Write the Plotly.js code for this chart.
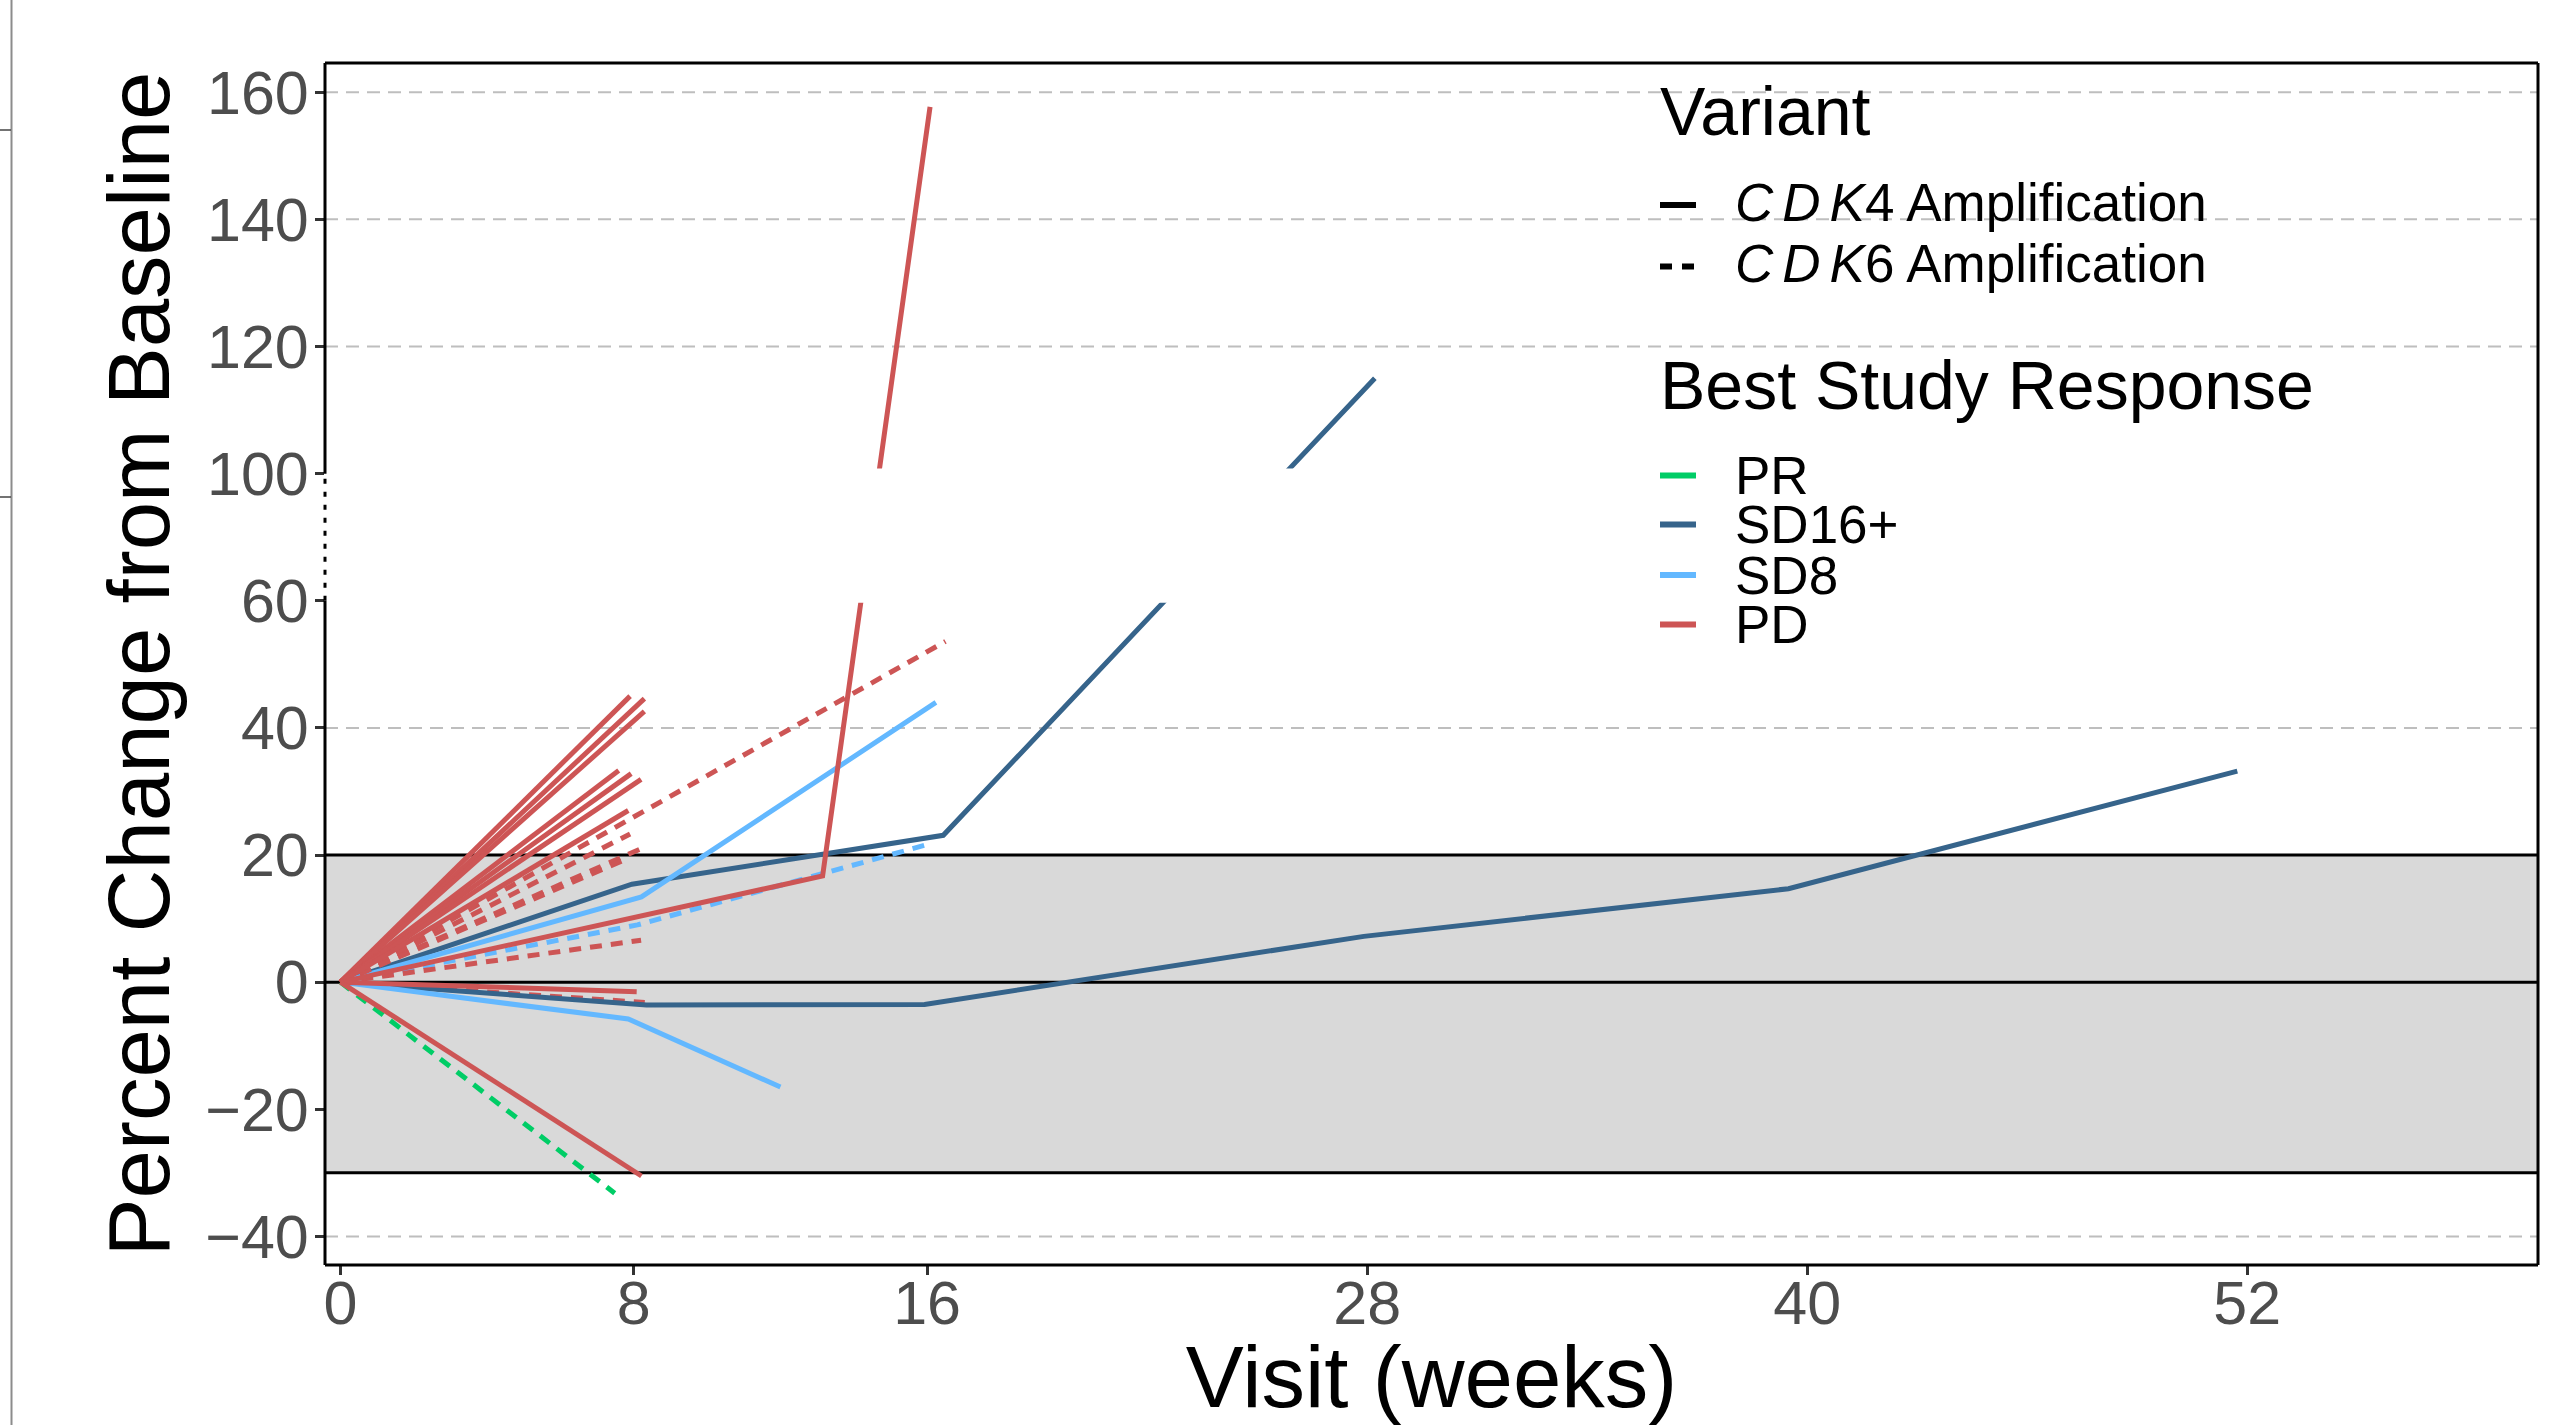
<!DOCTYPE html>
<html>
<head>
<meta charset="utf-8">
<script src="https://cdn.plot.ly/plotly-3.0.1.min.js"></script>
<style>html,body{margin:0;padding:0;background:#fff;overflow:hidden}</style>
</head>
<body>
<div id="chart" style="width:2566px;height:1425px"></div>
<script>
// ---------------- data ----------------
const responseLevels = ['PR', 'SD16+', 'SD8', 'PD'];
const responseColors = ['#00CD66', '#36648B', '#63B8FF', '#CD5555'];
const variantLevels = ['CDK4', 'CDK6'];
const variantLabels = [
  '<span style="font-style:italic;letter-spacing:9px">CD</span><i>K</i>4 Amplification',
  '<span style="font-style:italic;letter-spacing:9px">CD</span><i>K</i>6 Amplification'
];
const xTickValues = [0, 8, 16, 28, 40, 52];
const yTickValues = [-40, -20, 0, 20, 40, 60, 100, 120, 140, 160];

const patientResponse = ['PD', 'SD16+', 'SD16+', 'SD8', 'SD8', 'SD8', 'PR',
  'PD', 'PD', 'PD', 'PD', 'PD', 'PD', 'PD', 'PD', 'PD', 'PD', 'PD', 'PD', 'PD', 'PD', 'PD'];
const patientVariant = ['CDK6', 'CDK4', 'CDK4', 'CDK4', 'CDK4', 'CDK6', 'CDK6',
  'CDK6', 'CDK6', 'CDK6', 'CDK6', 'CDK6', 'CDK4', 'CDK4', 'CDK4', 'CDK4', 'CDK4', 'CDK4', 'CDK4', 'CDK4', 'CDK4', 'CDK4'];
const visitWeeks = [
  [0, 8.30],
  [0, 8.35, 15.93, 27.91, 39.49, 51.73],
  [0, 7.95, 16.44, 28.21],
  [0, 8.21, 16.24],
  [0, 7.85, 12.0],
  [0, 8.10, 15.98],
  [0, 7.48],
  [0, 16.5],
  [0, 7.90],
  [0, 8.20],
  [0, 7.85],
  [0, 8.20],
  [0, 7.90],
  [0, 8.29],
  [0, 8.29],
  [0, 7.59],
  [0, 7.93],
  [0, 8.20],
  [0, 7.85],
  [0, 13.15, 16.08],
  [0, 8.08],
  [0, 8.21]
];
const pctChange = [
  [0, -3.2],
  [0, -3.6, -3.5, 7.2, 14.7, 33.2],
  [0, 15.4, 23.1, 115],
  [0, 13.4, 44.0],
  [0, -5.8, -16.5],
  [0, 9.0, 21.6],
  [0, -33.2],
  [0, 53.6],
  [0, 23.3],
  [0, 21.0],
  [0, 19.5],
  [0, 6.6],
  [0, 45.0],
  [0, 44.6],
  [0, 42.6],
  [0, 33.3],
  [0, 32.8],
  [0, 31.9],
  [0, 27.0],
  [0, 16.7, 157.7],
  [0, -1.5],
  [0, -30.5]
];

// ---------------- broken axis transform ----------------
const BREAK_LO = 60, BREAK_HI = 100;
function brk(v) {
  if (v <= BREAK_LO) return v;
  if (v >= BREAK_HI) return v - (BREAK_HI - BREAK_LO) / 2;
  return BREAK_LO + (v - BREAK_LO) / 2;
}

const FONT = 'Liberation Sans, Arial, sans-serif';
const dashPattern = '12px,9px';

const traces = visitWeeks.map((wk, i) => ({
  type: 'scatter',
  mode: 'lines',
  x: wk,
  y: pctChange[i].map(brk),
  line: {
    color: responseColors[responseLevels.indexOf(patientResponse[i])],
    width: 5,
    dash: patientVariant[i] === 'CDK6' ? dashPattern : 'solid'
  },
  showlegend: false,
  hoverinfo: 'skip'
}));

// plot geometry (pixels)
const W = 2566, H = 1425;
const L = 325, R = 2538, T = 63, B = 1265;
const xRange = [-0.42, 59.93];
const yRange = [-44.5, 144.6];
const px2x = px => (px - L) / (R - L);
const py2y = py => (B - py) / (B - T);
const t2p = t => (t - yRange[0]) / (yRange[1] - yRange[0]);

const shapes = [];
// dashed grid lines (drawn below everything)
yTickValues.forEach(v => shapes.push({type: 'line', xref: 'paper', yref: 'y', x0: 0, x1: 1, y0: brk(v), y1: brk(v),
  line: {color: '#BEBEBE', width: 2, dash: '13px,8px'}, layer: 'below'}));
// grey response band (-30 .. 20)
shapes.push({type: 'rect', xref: 'paper', yref: 'y', x0: 0, x1: 1, y0: brk(-30), y1: brk(20),
  fillcolor: '#D9D9D9', line: {width: 0}, layer: 'below'});
[20, 0, -30].forEach(v => shapes.push({type: 'line', xref: 'paper', yref: 'y', x0: 0, x1: 1, y0: brk(v), y1: brk(v),
  line: {color: '#000000', width: 3}, layer: 'below'}));
// white break band
shapes.push({type: 'rect', xref: 'paper', yref: 'y', x0: 0, x1: 1, y0: brk(BREAK_LO) - 0.3, y1: brk(BREAK_HI) + 0.8,
  fillcolor: '#FFFFFF', line: {width: 0}, layer: 'above'});
// panel border
const bp = [t2p(brk(BREAK_LO)), t2p(brk(BREAK_HI))];
shapes.push({type: 'line', xref: 'paper', yref: 'paper', x0: 0, x1: 1, y0: 1, y1: 1, line: {color: '#000', width: 3}, layer: 'above'});
shapes.push({type: 'line', xref: 'paper', yref: 'paper', x0: 0, x1: 1, y0: 0, y1: 0, line: {color: '#000', width: 3}, layer: 'above'});
shapes.push({type: 'line', xref: 'paper', yref: 'paper', x0: 1, x1: 1, y0: 0, y1: 1, line: {color: '#000', width: 3}, layer: 'above'});
shapes.push({type: 'line', xref: 'paper', yref: 'paper', x0: 0, x1: 0, y0: 0, y1: bp[0], line: {color: '#000', width: 3}, layer: 'above'});
shapes.push({type: 'line', xref: 'paper', yref: 'paper', x0: 0, x1: 0, y0: bp[1], y1: 1, line: {color: '#000', width: 3}, layer: 'above'});
shapes.push({type: 'line', xref: 'paper', yref: 'paper', x0: 0, x1: 0, y0: bp[0], y1: bp[1], line: {color: '#000', width: 3, dash: '5px,8px'}, layer: 'above'});

// page artifacts on the left edge
shapes.push({type: 'line', xref: 'paper', yref: 'paper', x0: px2x(11.5), x1: px2x(11.5), y0: py2y(0), y1: py2y(H), line: {color: '#8C8C8C', width: 2}});
[130, 497].forEach(py => shapes.push({type: 'line', xref: 'paper', yref: 'paper', x0: px2x(0), x1: px2x(11), y0: py2y(py), y1: py2y(py), line: {color: '#444', width: 1.5}}));

// ---------------- manual legend ----------------
const annotations = [];
const keyX0 = 1660, keyX1 = 1696, labelX = 1735;
annotations.push({text: 'Variant', xref: 'paper', yref: 'paper', x: px2x(keyX0 - 2), y: py2y(111), xanchor: 'left', yanchor: 'middle',
  showarrow: false, font: {family: FONT, size: 68, color: '#000'}});
const variantRowY = [202, 263.5];
variantLevels.forEach((v, i) => {
  annotations.push({text: variantLabels[i], xref: 'paper', yref: 'paper', x: px2x(labelX - 2), y: py2y(variantRowY[i]), xanchor: 'left', yanchor: 'middle',
    showarrow: false, font: {family: FONT, size: 53, color: '#000'}});
  shapes.push({type: 'line', xref: 'paper', yref: 'paper', x0: px2x(keyX0), x1: px2x(keyX1), y0: py2y(variantRowY[i] + 3), y1: py2y(variantRowY[i] + 3),
    line: {color: '#000', width: 6, dash: i === 0 ? 'solid' : '12px,10px'}, layer: 'above'});
});
annotations.push({text: 'Best Study Response', xref: 'paper', yref: 'paper', x: px2x(keyX0 - 2), y: py2y(384.5), xanchor: 'left', yanchor: 'middle',
  showarrow: false, font: {family: FONT, size: 68, color: '#000'}});
const respRowY = [475.5, 524.5, 575, 624.5];
responseLevels.forEach((r, i) => {
  annotations.push({text: r, xref: 'paper', yref: 'paper', x: px2x(labelX - 2), y: py2y(respRowY[i]), xanchor: 'left', yanchor: 'middle',
    showarrow: false, font: {family: FONT, size: 53, color: '#000'}});
  shapes.push({type: 'line', xref: 'paper', yref: 'paper', x0: px2x(keyX0), x1: px2x(keyX1), y0: py2y(respRowY[i]), y1: py2y(respRowY[i]),
    line: {color: responseColors[i], width: 6}, layer: 'above'});
});

const layout = {
  width: W, height: H, autosize: false,
  margin: {l: L, r: W - R, t: T, b: H - B, pad: 0},
  paper_bgcolor: '#FFFFFF', plot_bgcolor: '#FFFFFF',
  font: {family: FONT},
  showlegend: false,
  xaxis: {
    range: xRange, tickmode: 'array', tickvals: xTickValues, ticktext: xTickValues.map(String),
    ticks: 'outside', ticklen: 9, tickwidth: 3, tickcolor: '#333333',
    tickfont: {family: FONT, size: 61, color: '#4D4D4D'}, ticklabelstandoff: -24,
    showgrid: false, zeroline: false, showline: false,
    title: {text: 'Visit (weeks)', font: {family: FONT, size: 87, color: '#000'}, standoff: 19}
  },
  yaxis: {
    range: yRange, tickmode: 'array', tickvals: yTickValues.map(brk),
    ticktext: yTickValues.map(v => v < 0 ? '\u2212' + Math.abs(v) : String(v)),
    ticks: 'outside', ticklen: 9, tickwidth: 3, tickcolor: '#333333',
    tickfont: {family: FONT, size: 61, color: '#4D4D4D'}, ticklabelstandoff: -6,
    showgrid: false, zeroline: false, showline: false,
    title: {text: 'Percent Change from Baseline', font: {family: FONT, size: 87, color: '#000'}, standoff: 6}
  },
  shapes: shapes,
  annotations: annotations
};

Plotly.newPlot('chart', traces, layout, {staticPlot: true, displayModeBar: false});
</script>
</body>
</html>
